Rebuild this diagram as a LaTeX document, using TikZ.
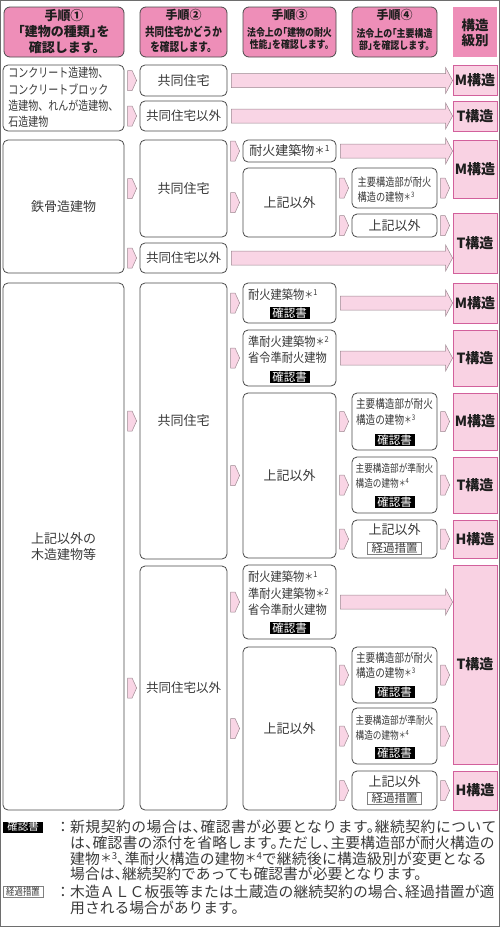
\documentclass[tikz,border=0pt]{standalone}
\usepackage{fontspec}
\usepackage{graphicx}
\setmainfont{Noto Sans CJK JP}
\newfontfamily\jpc[FakeStretch=0.8]{Noto Sans CJK JP}
\newfontfamily\jpd[FakeStretch=0.9]{Noto Sans CJK JP}
\newfontfamily\jph[RawFeature=+halt]{Noto Sans CJK JP}
\newfontfamily\jpch[FakeStretch=0.85,RawFeature=+halt]{Noto Sans CJK JP}
\usetikzlibrary{calc}
\definecolor{hpink}{HTML}{EE8EB8}
\definecolor{spink}{HTML}{F9D2E3}
\definecolor{smag}{HTML}{D2609C}
\definecolor{afill}{HTML}{F9D5E5}
\definecolor{aline}{HTML}{9C8890}
\definecolor{bline}{HTML}{4A4A4A}
\definecolor{txt}{HTML}{3A3A3A}
\definecolor{dark}{HTML}{1E1E1E}
\definecolor{framecol}{HTML}{6E6E6E}
\newcommand\fs[2]{\fontsize{#1}{#2}\selectfont}
\newcommand\kome[1]{\raisebox{0.08em}{\scalebox{0.8}{＊}}\raisebox{0.32em}{\scalebox{0.65}{#1}}}
\tikzset{
 box/.style={draw=bline, line width=0.8pt, rounded corners=5pt, fill=white, inner sep=0pt},
 hbox/.style={draw=bline, line width=0.8pt, rounded corners=6pt, fill=hpink, inner sep=0pt},
 hfive/.style={fill=hpink, inner sep=0pt},
 sbox/.style={draw=smag, line width=0.8pt, fill=spink, inner sep=0pt, text=dark, font=\bfseries\fs{14}{14}},
 tx/.style={inner sep=0pt, text=txt, align=center},
 htx/.style={inner sep=0pt, text=dark, align=center},
 tagk/.style={fill=black, text=white, inner sep=0pt, minimum width=40pt, minimum height=12pt, font=\fs{11.5}{11.5}},
 tagg/.style={draw=gray, line width=0.5pt, fill=white, text=txt, inner sep=0pt, minimum width=54pt, minimum height=12pt, font=\fs{11.5}{11.5}},
 arr/.style={fill=afill, draw=aline, line width=0.5pt, line join=miter},
}
\newcommand\bx[7]{\node[#6, minimum width={(#4-#2)*1pt}, minimum height={(#5-#3)*1pt}] (#1) at ({(#2+#4)/2},{(#3+#5)/2}) {#7};}
\newcommand\sarr[2]{\path[arr] let \p1=(#1.west), \p2=(#2.center) in (\x1-12pt,\y2+10pt) -- (\x1-7.5pt,\y2+10pt) -- (\x1-3pt,\y2) -- (\x1-7.5pt,\y2-10pt) -- (\x1-12pt,\y2-10pt) -- cycle;}
\newcommand\larr[2]{\path[arr] let \p1=(#1.east), \p2=(#2.west), \p3=(#1.center) in (\x1+4pt,\y3+7pt) -- (\x2-7pt,\y3+7pt) -- (\x2-7pt,\y3+13pt) -- (\x2,\y3) -- (\x2-7pt,\y3-13pt) -- (\x2-7pt,\y3-7pt) -- (\x1+4pt,\y3-7pt) -- cycle;}
\begin{document}
\begin{tikzpicture}[x=1pt,y=-1pt]
\useasboundingbox (0,0) rectangle (500,927);
\draw[framecol, line width=0.8pt] (0.6,0.6) rectangle (499.4,926.4);
% headers
\bx{h1}{4}{7}{124}{57}{hbox}{}
\bx{h2}{140}{7}{227}{57}{hbox}{}
\bx{h3}{243}{7}{336}{57}{hbox}{}
\bx{h4}{352}{7}{437}{57}{hbox}{}
\bx{h5}{453}{7}{497}{57}{hfive}{}
\node[htx, font=\jph\bfseries\fs{13}{16}] (h1t) at (64,31.5) {手順①\\「建物の種類」を\\確認します。};
\node[htx, font=\bfseries\fs{12}{12}] (h2a) at (183.5,15) {手順②};
\node[htx, font=\jpc\bfseries\fs{12}{15}] (h2b) at (183.5,39.5) {共同住宅かどうか\\を確認します。};
\node[htx, font=\bfseries\fs{12}{12}] (h3a) at (289.5,15) {手順③};
\node[htx, font=\jpch\bfseries\fs{10.5}{12}] (h3b) at (289.5,39) {法令上の「建物の耐火\\性能」を確認します。};
\node[htx, font=\bfseries\fs{12}{12}] (h4a) at (394.5,15) {手順④};
\node[htx, font=\jpch\bfseries\fs{10.5}{12}] (h4b) at (394.5,39) {法令上の「主要構造\\部」を確認します。};
\node[htx, font=\bfseries\fs{13.5}{15}] (h5t) at (475,32.5) {構造\\級別};
% row 1
\bx{l1}{3}{65}{124}{131}{box}{}
\node[tx, align=left, font=\jpc\fs{12.5}{16.3}] (l1t) at (63.5,97.5) {コンクリート造建物、\\コンクリートブロック\\造建物、れんが造建物、\\石造建物};
\bx{a1}{140}{65}{227}{96}{box,tx,font=\fs{13}{13}}{共同住宅}
\bx{a2}{140}{101}{227}{131}{box,tx,font=\fs{12.5}{13}}{共同住宅以外}
\bx{s1}{453}{65}{497}{95}{sbox}{M構造}
\bx{s2}{453}{101}{497}{131}{sbox}{T構造}
\sarr{a1}{a1}\sarr{a2}{a2}
\larr{a1}{s1}\larr{a2}{s2}
% row 2
\bx{l2}{3}{140}{124}{273}{box,tx,font=\fs{13}{13}}{鉄骨造建物}
\bx{b1}{140}{140}{227}{237}{box,tx,font=\fs{13}{13}}{共同住宅}
\bx{b2}{140}{243}{227}{273}{box,tx,font=\fs{12.5}{13}}{共同住宅以外}
\bx{c1}{243}{140}{336}{162}{box,tx,font=\fs{13}{13}}{耐火建築物\kome{1}}
\bx{c2}{243}{168}{336}{237}{box,tx,font=\fs{13}{13}}{上記以外}
\bx{d1}{352}{168}{437}{208}{box}{}
\node[tx, align=left, font=\jpc\fs{11.5}{15}] (d1t) at (394.5,189.5) {主要構造部が耐火\\構造の建物\kome{3}};
\bx{d2}{352}{214}{437}{237}{box,tx,font=\fs{13}{13}}{上記以外}
\bx{s3}{453}{140}{497}{198}{sbox}{M構造}
\bx{s4}{453}{213}{497}{273}{sbox}{T構造}
\sarr{b1}{b1}\sarr{b2}{b2}\sarr{c1}{c1}\sarr{c2}{c2}\sarr{d1}{d1}\sarr{d2}{d2}
\sarr{s3}{d1}\sarr{s4}{d2}
\larr{c1}{s3}\larr{b2}{s4}
% row 3
\bx{l3}{3}{283}{124}{810}{box,tx,font=\fs{13}{16}}{上記以外の\\木造建物等}
\bx{e1}{140}{283}{227}{559}{box,tx,font=\fs{13}{13}}{共同住宅}
\bx{e2}{140}{566}{227}{810}{box,tx,font=\fs{12.5}{13}}{共同住宅以外}
% e1 branch
\bx{f1}{243}{283}{336}{323}{box}{}
\node[tx, anchor=west, font=\jpd\fs{12.5}{16}] (f1t) at (248,295) {耐火建築物\kome{1}};
\node[tagk] (f1k) at (289.5,313) {確認書};
\bx{f2}{243}{330}{336}{386}{box}{}
\node[tx, anchor=west, align=left, font=\jpd\fs{12.5}{16}] (f2t) at (248,350) {準耐火建築物\kome{2}\\省令準耐火建物};
\node[tagk] (f2k) at (289.5,377) {確認書};
\bx{f3}{243}{393}{336}{558}{box,tx,font=\fs{13}{13}}{上記以外}
\bx{g1}{352}{393}{437}{450}{box}{}
\node[tx, align=left, font=\jpc\fs{12}{16}] (g1t) at (394.5,412) {主要構造部が耐火\\構造の建物\kome{3}};
\node[tagk] (g1k) at (394.5,440) {確認書};
\bx{g2}{352}{457}{437}{513}{box}{}
\node[tx, align=left, font=\jpc\fs{10.8}{15}] (g2t) at (394.5,475.5) {主要構造部が準耐火\\構造の建物\kome{4}};
\node[tagk] (g2k) at (394.5,502) {確認書};
\bx{g3}{352}{520}{437}{558}{box}{}
\node[tx, font=\fs{13}{13}] (g3t) at (394.5,530) {上記以外};
\node[tagg] (g3k) at (394.5,548) {経過措置};
\bx{s5}{453}{283}{497}{323}{sbox}{M構造}
\bx{s6}{453}{330}{497}{386}{sbox}{T構造}
\bx{s7}{453}{393}{497}{450}{sbox}{M構造}
\bx{s8}{453}{457}{497}{513}{sbox}{T構造}
\bx{s9}{453}{520}{497}{558}{sbox}{H構造}
\sarr{e1}{e1}\sarr{f1}{f1}\sarr{f2}{f2}\sarr{f3}{f3}
\sarr{g1}{g1}\sarr{g2}{g2}\sarr{g3}{g3}
\sarr{s7}{g1}\sarr{s8}{g2}\sarr{s9}{g3}
\larr{f1}{s5}\larr{f2}{s6}
% e2 branch
\bx{p1}{243}{565}{336}{639}{box}{}
\node[tx, anchor=west, align=left, font=\jpd\fs{12.5}{16.5}] (p1t) at (248,593.5) {耐火建築物\kome{1}\\準耐火建築物\kome{2}\\省令準耐火建物};
\node[tagk] (p1k) at (289.5,628) {確認書};
\bx{p2}{243}{647}{336}{810}{box,tx,font=\fs{13}{13}}{上記以外}
\bx{q1}{352}{647}{437}{703}{box}{}
\node[tx, align=left, font=\jpc\fs{12}{15}] (q1t) at (394.5,665.5) {主要構造部が耐火\\構造の建物\kome{3}};
\node[tagk] (q1k) at (394.5,692) {確認書};
\bx{q2}{352}{708}{437}{764}{box}{}
\node[tx, align=left, font=\jpc\fs{10.8}{15}] (q2t) at (394.5,727.5) {主要構造部が準耐火\\構造の建物\kome{4}};
\node[tagk] (q2k) at (394.5,753) {確認書};
\bx{q3}{352}{771}{437}{810}{box}{}
\node[tx, font=\fs{13}{13}] (q3t) at (394.5,782) {上記以外};
\node[tagg] (q3k) at (394.5,798) {経過措置};
\bx{s10}{453}{565}{497}{764}{sbox}{T構造}
\bx{s11}{453}{771}{497}{810}{sbox}{H構造}
\sarr{e2}{e2}\sarr{p1}{p1}\sarr{p2}{p2}
\sarr{q1}{q1}\sarr{q2}{q2}\sarr{q3}{q3}
\sarr{s10}{q1}\sarr{s10}{q2}\sarr{s11}{q3}
\larr{p1}{s10}
% notes
\node[tagk, minimum height=11pt, font=\fs{10.5}{10.5}] (nk) at (23,827) {確認書};
\node[tagg, minimum width=40pt, minimum height=11pt, font=\jpc\fs{10.5}{10.5}] (ng) at (23,892) {経過措置};
\begin{scope}[every node/.style={inner sep=0pt, text=txt, font=\jph\fs{14.8}{14.8}}]
\node (c1) at (63,827) {：};
\node[anchor=west] (n1) at (70,827) {\addfontfeature{LetterSpace=3.4}新規契約の場合は、確認書が必要となります。継続契約について};
\node[anchor=west] (n2) at (70,843) {\addfontfeature{LetterSpace=1}は、確認書の添付を省略します。ただし、主要構造部が耐火構造の};
\node[anchor=west] (n3) at (70,858.5) {\addfontfeature{LetterSpace=1.5}建物\kome{3}、準耐火構造の建物\kome{4}で継続後に構造級別が変更となる};
\node[anchor=west] (n4) at (70,874) {場合は、継続契約であっても確認書が必要となります。};
\node (c2) at (63,892) {：};
\node[anchor=west] (n5) at (70,892) {\addfontfeature{LetterSpace=0.6}木造ＡＬＣ板張等または土蔵造の継続契約の場合、経過措置が適};
\node[anchor=west] (n6) at (70,908) {用される場合があります。};
\end{scope}
\end{tikzpicture}
\end{document}
